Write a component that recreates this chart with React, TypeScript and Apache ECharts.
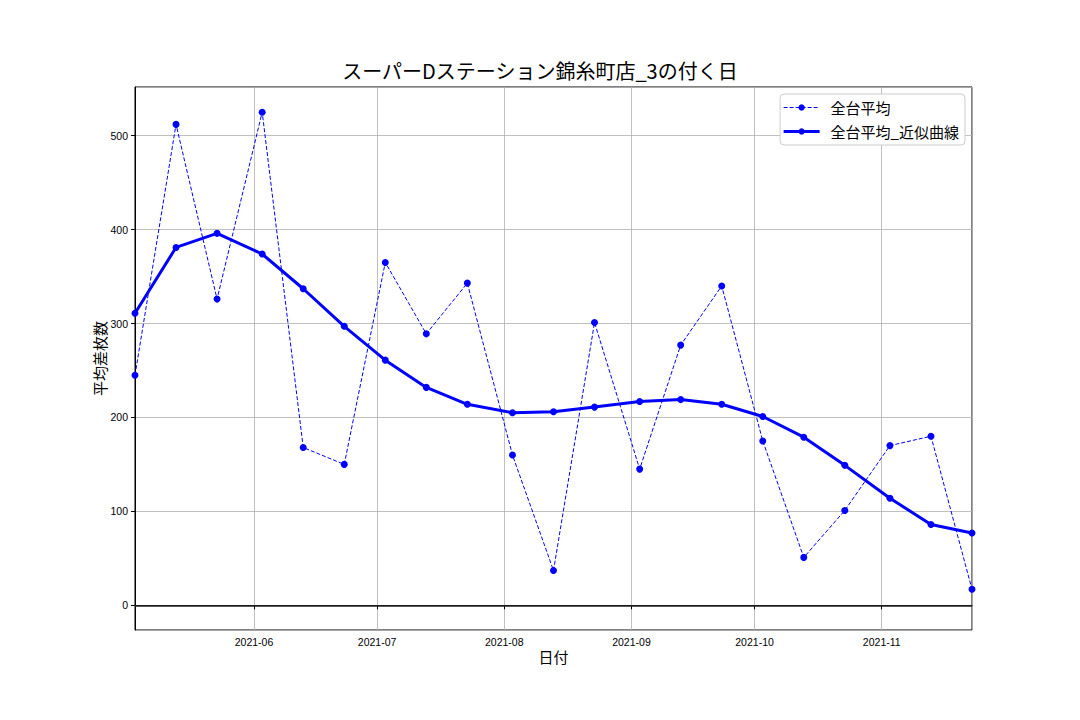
import React, { useEffect, useRef } from "react";
import * as echarts from "echarts";

const titleText = "スーパーDステーション錦糸町店_3の付く日";
const dates = [
  "2021-05-03", "2021-05-13", "2021-05-23", "2021-06-03", "2021-06-13", "2021-06-23",
  "2021-07-03", "2021-07-13", "2021-07-23", "2021-08-03", "2021-08-13", "2021-08-23",
  "2021-09-03", "2021-09-13", "2021-09-23", "2021-10-03", "2021-10-13", "2021-10-23",
  "2021-11-03", "2021-11-13", "2021-11-23",
];
const avgValues = [
  245, 512, 326, 525, 168, 150, 365, 289, 343, 160, 37, 301, 145, 277, 340, 175, 51, 101, 170, 180, 17,
];
const fitValues = [
  311, 381, 396, 374, 337, 297, 261, 232, 214, 205, 206, 211, 217, 219, 214, 201, 179, 149, 114, 86, 77,
];
const seriesNames = ["全台平均", "全台平均_近似曲線"];

const FONT = "'Noto Sans CJK JP', 'DejaVu Sans', sans-serif";
const TICK_FONT = "'Liberation Sans', 'DejaVu Sans', sans-serif";

export default function App() {
  const ref = useRef<HTMLDivElement>(null);
  useEffect(() => {
    if (!ref.current) return;
    const chart = echarts.init(ref.current, undefined, { renderer: "svg" });
    const pairs = (vals: number[]) => dates.map((d, i) => [d, vals[i]]);
    chart.setOption({
      animation: false,
      backgroundColor: "#ffffff",
      textStyle: { fontFamily: FONT },
      title: {
        text: titleText,
        left: "center",
        top: 60,
        padding: 0,
        textStyle: { fontSize: 20, fontWeight: "normal", color: "#000", fontFamily: FONT },
      },
      legend: {
        orient: "vertical",
        right: 115,
        top: 94,
        itemWidth: 36,
        itemHeight: 8,
        itemGap: 9,
        padding: [6, 6, 6, 2],
        borderColor: "#cccccc",
        borderWidth: 1,
        borderRadius: 4,
        backgroundColor: "#ffffff",
        textStyle: { fontSize: 15, color: "#000", fontFamily: FONT, padding: [0, 0, 0, 6] },
        data: [
          { name: seriesNames[0], lineStyle: { width: 1, type: [4, 2], color: "#0000ff" } },
          { name: seriesNames[1], lineStyle: { width: 3, color: "#0000ff" } },
        ],
      },
      grid: {
        left: 135,
        right: 108,
        top: 87,
        bottom: 90,
        show: true,
        borderColor: "#000",
        borderWidth: 1,
        backgroundColor: "transparent",
      },
      xAxis: {
        type: "time",
        min: "2021-05-03",
        max: "2021-11-23",
        minInterval: 28 * 86400000,
        maxInterval: 31 * 86400000,
        name: "日付",
        nameLocation: "middle",
        nameGap: 19,
        nameMoveOverlap: false,
        nameTextStyle: { fontSize: 15, color: "#000", fontFamily: FONT },
        axisLine: { show: true, lineStyle: { color: "#000", width: 1 } },
        axisTick: { show: true, length: 4, lineStyle: { color: "#000" } },
        axisLabel: {
          fontSize: 10.5,
          fontFamily: TICK_FONT,
          color: "#000",
          margin: 6,
          showMinLabel: false,
          showMaxLabel: false,
          formatter: (v: number) => {
            const d = new Date(v);
            return `${d.getFullYear()}-${String(d.getMonth() + 1).padStart(2, "0")}`;
          },
        },
        splitLine: { show: true, lineStyle: { color: "#b0b0b0", width: 0.8 } },
      },
      yAxis: {
        type: "value",
        min: -26.3,
        max: 551.8,
        splitNumber: 5,
        name: "平均差枚数",
        nameLocation: "middle",
        nameGap: 28,
        nameMoveOverlap: false,
        nameRotate: 90,
        nameTextStyle: { fontSize: 15, color: "#000", fontFamily: FONT },
        axisLine: { show: true, lineStyle: { color: "#000", width: 1 } },
        axisTick: { show: true, length: 4, lineStyle: { color: "#000" } },
        axisLabel: {
          fontSize: 10.5,
          fontFamily: TICK_FONT,
          color: "#000",
          margin: 7,
          showMinLabel: false,
          showMaxLabel: false,
        },
        splitLine: { show: true, lineStyle: { color: "#b0b0b0", width: 0.8 } },
      },
      series: [
        {
          name: seriesNames[0],
          type: "line",
          data: pairs(avgValues),
          symbol: "circle",
          symbolSize: 7,
          color: "#0000ff",
          lineStyle: { color: "#0000ff", width: 1, type: [4, 2] },
          itemStyle: { color: "#0000ff" },
          markLine: {
            silent: true,
            symbol: "none",
            label: { show: false },
            lineStyle: { color: "#222", width: 1.5, type: "solid" },
            data: [{ yAxis: 0 }],
          },
          z: 3,
        },
        {
          name: seriesNames[1],
          type: "line",
          data: pairs(fitValues),
          symbol: "circle",
          symbolSize: 7,
          color: "#0000ff",
          lineStyle: { color: "#0000ff", width: 3 },
          itemStyle: { color: "#0000ff" },
          z: 4,
        },
      ],
    });
    return () => chart.dispose();
  }, []);
  return <div ref={ref} style={{ width: 1080, height: 720, position: "absolute", left: 0, top: 0 }} />;
}
